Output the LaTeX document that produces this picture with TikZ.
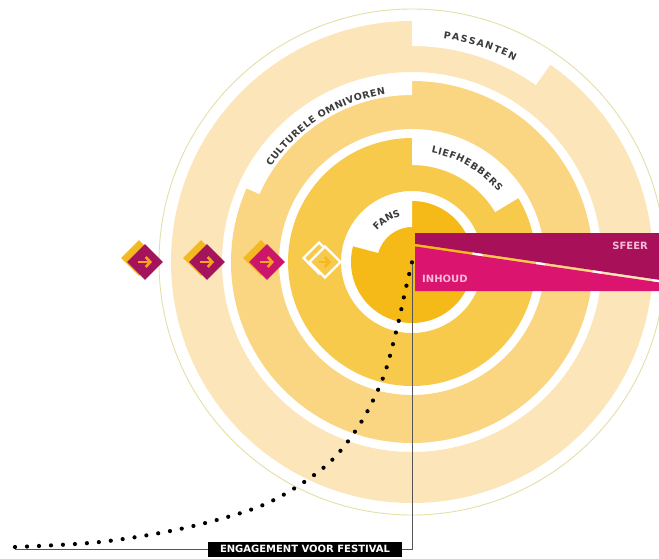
\documentclass[tikz,border=0pt]{standalone}
\usepackage{fontspec}
\setsansfont{DejaVu Sans}
\usepackage{tikz}
\usetikzlibrary{arrows.meta, positioning, shapes.geometric, calc, decorations.text}
\definecolor{ringa}{HTML}{FCE5B8}
\definecolor{ringb}{HTML}{FAD682}
\definecolor{ringc}{HTML}{F8CA4C}
\definecolor{core}{HTML}{F5BA18}
\definecolor{rimgreen}{HTML}{E3DFA6}
\definecolor{plum}{HTML}{A4145C}
\definecolor{rose}{HTML}{CB166B}
\definecolor{gold}{HTML}{F3B920}
\definecolor{tangerine}{HTML}{F6A21E}
\definecolor{sfeercol}{HTML}{A8105A}
\definecolor{inhoudcol}{HTML}{DB1470}
\definecolor{blush}{HTML}{F7BCD8}
\definecolor{lbl}{HTML}{3A3A3A}
\definecolor{axisgray}{HTML}{555555}
\newcommand{\ringfont}{\sffamily\bfseries\fontsize{9.5}{10}\selectfont}
\newcommand{\barfont}{\sffamily\bfseries\fontsize{10}{11}\selectfont}

\begin{document}
\begin{tikzpicture}[x=1pt, y=1pt,
  rim/.style={draw=rimgreen, line width=0.9pt},
  notch/.style={fill=white},
  gem/.style={diamond, aspect=1, inner sep=0pt, minimum size=36pt},
  gemback/.style={gem, fill=gold},
  gemarrow/.style={-{Straight Barb[length=4.5pt, width=10pt]}, line width=2.6pt, color=tangerine},
  ringlabel/.style={decorate, decoration={text effects along path, text={#1},
    text effects/.cd, text along path, fit text to path,
    characters={text=lbl, font=\ringfont}}},
  barlabel/.style={inner sep=0pt, font=\barfont, text=blush},
  axisline/.style={draw=axisgray, line width=0.8pt},
  dotcurve/.style={line width=4.2pt, line cap=round, dash pattern=on 0pt off 12pt}
]
  \useasboundingbox (0,0) rectangle (659,-558);
  \coordinate (c) at (412,-262);
  \coordinate (start) at (15,-549);

  % rings
  \draw[rim] (c) circle[radius=253];
  \fill[ringa, even odd rule] (c) circle[radius=241] circle[radius=190];
  \fill[ringb, even odd rule] (c) circle[radius=181] circle[radius=133];
  \fill[ringc, even odd rule] (c) circle[radius=124] circle[radius=71];
  \fill[core] (c) circle[radius=61];

  % label notches
  \fill[notch] ($(c)+(55:216)$) arc[start angle=55, end angle=90, radius=216]
    -- ($(c)+(90:242)$) arc[start angle=90, end angle=55, radius=242] -- cycle;
  \fill[notch] ($(c)+(90:167)$) arc[start angle=90, end angle=156, radius=167]
    -- ($(c)+(156:182)$) arc[start angle=156, end angle=90, radius=182] -- cycle;
  \fill[notch] ($(c)+(31:97)$) arc[start angle=31, end angle=90, radius=97]
    -- ($(c)+(90:125)$) arc[start angle=90, end angle=31, radius=125] -- cycle;
  \fill[notch] ($(c)+(90:35)$) arc[start angle=90, end angle=165, radius=35]
    -- ($(c)+(165:62)$) arc[start angle=165, end angle=90, radius=62] -- cycle;

  \path[ringlabel={PASSANTEN}]
    ($(c)+(82:226)$) arc[start angle=82, end angle=63, radius=226];
  \path[ringlabel={CULTURELE OMNIVOREN}]
    ($(c)+(146:170)$) arc[start angle=146, end angle=99, radius=170];
  \path[ringlabel={LIEFHEBBERS}]
    ($(c)+(80:111)$) arc[start angle=80, end angle=39, radius=111];
  \path[ringlabel={FANS}]
    ($(c)+(138:47)$) arc[start angle=138, end angle=104, radius=47];

  % steps
  \node[gemback] (d1s) at (139,-258) {};
  \node[gem, fill=plum] (d1) at (145,-262) {};
  \node[gemback] (d2s) at (201,-258) {};
  \node[gem, fill=plum] (d2) at (207,-262) {};
  \node[gemback] (d3s) at (261,-258) {};
  \node[gem, fill=rose] (d3) at (267,-262) {};
  \node[gem, draw=white, line width=2.4pt, minimum size=32pt] (d4s) at (319,-258) {};
  \node[gem, draw=white, fill=ringc, line width=2.4pt, minimum size=32pt] (d4) at (325,-262) {};
  \draw[gemarrow] ([xshift=-7pt]d1.center) -- ([xshift=7pt]d1.center);
  \draw[gemarrow] ([xshift=-7pt]d2.center) -- ([xshift=7pt]d2.center);
  \draw[gemarrow] ([xshift=-7pt]d3.center) -- ([xshift=7pt]d3.center);
  \draw[gemarrow, color=gold] ([xshift=-6pt]d4.center) -- ([xshift=6pt]d4.center);

  % sfeer / inhoud bar
  \fill[sfeercol] (415,-233) -- (659,-233) -- (659,-279.8) -- (415,-243.8) -- cycle;
  \fill[inhoudcol] (415,-246.4) -- (659,-282.4) -- (659,-291) -- (415,-291) -- cycle;
  \node[barlabel, anchor=east] (sfeer) at (648,-246) {SFEER};
  \node[barlabel, anchor=west] (inhoud) at (422,-279) {INHOUD};

  % engagement
  \node[fill=black, text=white, font=\barfont, inner xsep=4pt, minimum width=194pt, minimum height=15pt] (engage) at (305,-549) {ENGAGEMENT VOOR FESTIVAL};
  \draw[axisline] (c) |- (engage.east);
  \draw[axisline] (start) -- (engage.west);
  \draw[dotcurve] plot[smooth, tension=0.55] coordinates {(15,-547) (100,-542) (180,-529) (250,-510) (290,-491) (330,-462) (360,-424) (383,-378) (397,-328) (405,-292) (c)};
\end{tikzpicture}
\end{document}
